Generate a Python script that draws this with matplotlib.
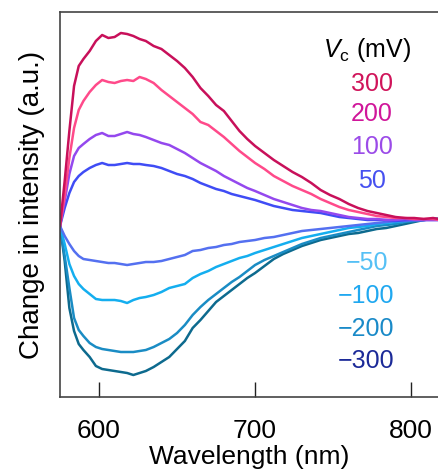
import matplotlib
matplotlib.use("Agg")
import matplotlib.pyplot as plt

plt.rcParams['font.family'] = ['Liberation Sans', 'DejaVu Sans']
plt.rcParams['mathtext.fontset'] = 'custom'
plt.rcParams['mathtext.rm'] = 'Liberation Sans'
plt.rcParams['mathtext.it'] = 'Liberation Sans:italic'

wavelength = [575, 578, 581, 584, 587, 590, 594, 598, 602, 606, 610, 614, 618, 622, 626,
              630, 635, 640, 645, 650, 655, 660, 665, 670, 675, 680, 685, 690, 695, 700,
              706, 712, 718, 724, 730, 736, 742, 748, 754, 760, 766, 772, 778, 784, 790,
              796, 802, 808, 814, 818]

s_p300 = [0, 45, 95, 140, 160, 167, 175, 185, 191, 188, 189, 193, 192, 190, 187,
          185, 180, 177, 171, 165, 158, 149, 138, 130, 121, 115, 105, 95, 87, 80,
          73, 66, 60, 54, 49, 43, 36, 31, 27, 22, 18, 15, 13, 11, 9,
          8, 8, 7, 8, 7]
s_p200 = [0, 30, 68, 98, 116, 125, 134, 141, 146, 144, 143, 145, 146, 145, 149,
          147, 143, 136, 130, 124, 118, 112, 104, 101, 95, 89, 82, 75, 69, 63,
          57, 50, 45, 40, 36, 32, 27, 23, 19, 16, 14, 12, 10, 9, 8,
          8, 7, 7, 7, 6]
s_p100 = [0, 25, 52, 70, 78, 82, 87, 91, 93, 90, 90, 92, 94, 92, 91,
          89, 86, 83, 81, 77, 73, 68, 63, 59, 55, 50, 46, 42, 38, 35,
          31, 27, 24, 21, 18, 16, 15, 13, 11, 9, 8, 7, 7, 6, 6,
          7, 6, 6, 6, 6]
s_p50 = [0, 18, 33, 44, 50, 54, 58, 61, 63, 61, 61, 62, 63, 62, 62,
         61, 60, 58, 55, 52, 50, 47, 43, 40, 37, 35, 32, 30, 28, 26,
         23, 20, 18, 16, 15, 14, 13, 11, 9, 8, 7, 6, 6, 6, 5,
         6, 6, 6, 6, 6]
s_m50 = [0, -10, -18, -25, -30, -33, -34, -35, -36, -37, -37, -38, -39, -38, -37,
         -36, -36, -35, -33, -31, -29, -25, -24, -22, -21, -19, -18, -16, -15, -14,
         -12, -11, -9, -7, -5, -4, -3, -2, -1, 0, 1, 2, 3, 4, 5,
         5, 6, 6, 7, 7]
s_m100 = [0, -18, -38, -50, -58, -63, -68, -73, -74, -74, -74, -75, -77, -74, -72,
          -71, -69, -66, -62, -60, -58, -52, -48, -45, -41, -38, -35, -32, -30, -27,
          -24, -21, -18, -15, -12, -10, -8, -6, -4, -2, -1, 0, 2, 3, 4,
          5, 6, 6, 7, 7]
s_m200 = [0, -30, -62, -92, -104, -110, -117, -121, -123, -124, -125, -126, -126, -126, -125,
          -124, -121, -117, -113, -107, -99, -89, -81, -74, -68, -62, -56, -51, -45, -39,
          -34, -30, -26, -22, -18, -15, -12, -10, -8, -6, -4, -2, 0, 1, 2,
          4, 5, 6, 7, 7]
s_m300 = [0, -35, -82, -105, -118, -124, -131, -140, -143, -144, -145, -146, -147, -149, -147,
          -145, -141, -136, -131, -123, -115, -102, -94, -85, -76, -70, -64, -58, -52, -47,
          -40, -33, -28, -24, -20, -17, -14, -12, -10, -8, -7, -5, -3, -2, 0,
          2, 4, 6, 7, 7]

labels = ['300', '200', '100', '50', '\u221250', '\u2212100', '\u2212200', '\u2212300']
series = [s_p300, s_p200, s_p100, s_p50, s_m50, s_m100, s_m200, s_m300]
line_colors = ['#C8105A', '#FF4A8A', '#9448EE', '#3F4CF5', '#5470F0', '#14AEEF', '#1A8CC4', '#0D6A8E']
text_colors = ['#D0145A', '#D0169A', '#9B4BE8', '#4650F0', '#55C0F5', '#20A8F0', '#1A8AC8', '#1C2A98']
xticks = [600, 700, 800]

W, H = 438, 470
fig = plt.figure(figsize=(W / 100, H / 100), dpi=100)
ax = fig.add_axes([60 / W, 1 - 397 / H, (W - 60) / W, (397 - 12) / H])

for ys, c in zip(series[::-1], line_colors[::-1]):
    ax.plot(wavelength, ys, color=c, lw=1.8, solid_joinstyle='round')

ax.set_xlim(575, 817.2)
ax.set_ylim(-171, 214)
ax.set_xticks(xticks)
ax.set_yticks([])
ax.tick_params(axis='x', direction='in', length=11, width=1.0, labelsize=19, pad=16, color='#222222')
ax.spines['right'].set_visible(False)
for sp in ['left', 'top', 'bottom']:
    ax.spines[sp].set_color('#444444')
    ax.spines[sp].set_linewidth(1.2)
ax.set_xlabel('Wavelength (nm)', fontsize=19, labelpad=1)
ax.set_ylabel('Change in intensity (a.u.)', fontsize=20, labelpad=11)

def fx(px):
    return px / W

def fy(py):
    return 1 - py / H

fig.text(fx(367), fy(50), r'$V$$_\mathrm{c}$ (mV)', fontsize=18, ha='center', va='center')
ys_px = [84, 114, 147, 181, 263, 296, 329, 361]
xs_px = [372, 372, 372, 372, 367, 366, 366, 366]
for lab, c, xp, yp in zip(labels, text_colors, xs_px, ys_px):
    fig.text(fx(xp), fy(yp), lab, fontsize=18, color=c, ha='center', va='center')

fig.savefig('out.png', dpi=100)
